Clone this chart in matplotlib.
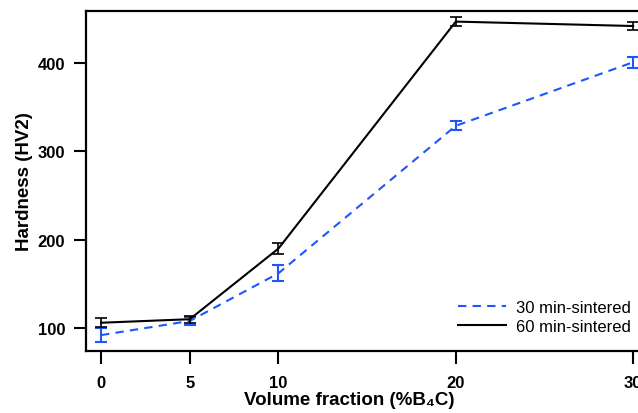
import matplotlib
matplotlib.use("Agg")
import matplotlib.pyplot as plt

plt.rcParams['font.family'] = ['Liberation Sans', 'DejaVu Sans']

volume = [0, 5, 10, 20, 30]
hard_30 = [92, 108, 162, 329, 401]
err_30 = [8, 4, 9, 5, 6]
hard_60 = [106, 110, 190, 447, 442]
err_60 = [5, 4, 6, 5, 4]

fig = plt.figure(figsize=(6.38, 4.14), dpi=100)
ax = fig.add_axes([86 / 638, 62 / 414, 556 / 638, 340 / 414])

blue = "#1f55ff"
ax.errorbar(volume, hard_30, yerr=err_30, color=blue, ls="none",
            capsize=4, elinewidth=1.5, capthick=1.5)
ax.plot(volume, hard_30, color=blue, ls="--", lw=1.5, dashes=(4, 3),
        label="30 min-sintered")
ax.errorbar(volume, hard_60, yerr=err_60, color="black", ls="none",
            capsize=4, elinewidth=1.2, capthick=1.2)
ax.plot(volume, hard_60, color="black", ls="-", lw=1.5,
        label="60 min-sintered")

ax.set_xlim(-0.85, 30.5)
ax.set_ylim(74, 459)
ax.set_xticks(volume)
ax.set_yticks([100, 200, 300, 400])

for s in ax.spines.values():
    s.set_linewidth(1.6)
ax.tick_params(direction="out", length=9, width=1.5, labelsize=12, pad=6)
ax.tick_params(axis="x", pad=8)
for lab in ax.get_xticklabels() + ax.get_yticklabels():
    lab.set_fontweight("bold")

ax.set_xlabel("Volume fraction (%B\u2084C)", fontsize=13.5, fontweight="bold")
ax.xaxis.set_label_coords(0.473, -0.118)
ax.set_ylabel("Hardness (HV2)", fontsize=13.5, fontweight="bold", labelpad=3)

ax.legend(loc="lower right", frameon=False, fontsize=12, handlelength=2.9,
          handletextpad=0.6, bbox_to_anchor=(0.998, 0.02), borderaxespad=0.2,
          labelspacing=0.25)

fig.savefig("out.png", dpi=100)
